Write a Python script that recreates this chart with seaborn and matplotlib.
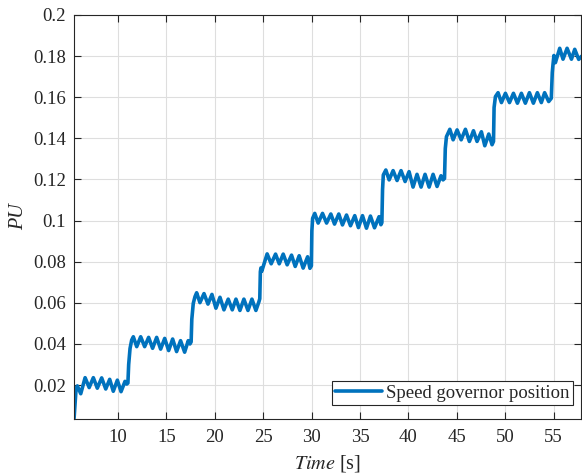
import pandas as pd
import seaborn as sns
import matplotlib
matplotlib.use("Agg")
import matplotlib.pyplot as plt

# speed governor position (peaks / troughs of each step)
time_s = [
    5.46, 5.67, 5.80, 6.15, 6.60, 7.02, 7.45, 7.86, 8.31, 8.73, 9.14, 9.51, 9.93, 10.31, 10.72, 10.90, 11.02,
    11.10, 11.24, 11.41, 11.58, 11.93, 12.34, 12.75, 13.16, 13.57, 13.99, 14.40, 14.82, 15.23, 15.64, 16.05, 16.46, 16.88, 17.25, 17.43, 17.55,
    17.62, 17.77, 17.95, 18.12, 18.46, 18.88, 19.29, 19.70, 20.11, 20.53, 20.94, 21.38, 21.80, 22.18, 22.59, 23.00, 23.42, 23.83, 24.24, 24.55, 24.64,
    24.70, 24.76, 24.84, 25.40, 25.82, 26.27, 26.65, 27.06, 27.47, 27.92, 28.30, 28.71, 29.12, 29.58, 29.82, 29.97,
    30.02, 30.10, 30.32, 30.67, 31.12, 31.54, 31.98, 32.36, 32.80, 33.18, 33.60, 34.01, 34.45, 34.83, 35.25, 35.66, 36.07, 36.49, 36.96, 37.15, 37.25,
    37.32, 37.40, 37.66, 38.00, 38.41, 38.82, 39.23, 39.65, 40.06, 40.47, 40.88, 41.30, 41.71, 42.13, 42.54, 42.95, 43.36, 43.57, 43.72,
    43.80, 43.92, 44.27, 44.61, 45.02, 45.44, 45.88, 46.29, 46.71, 47.08, 47.53, 47.88, 48.29, 48.63, 48.78,
    48.84, 48.98, 49.25, 49.60, 50.01, 50.43, 50.84, 51.25, 51.66, 52.07, 52.49, 52.90, 53.31, 53.72, 54.06, 54.48, 54.75,
    54.85, 54.92, 55.02, 55.17, 55.62, 55.96, 56.38, 56.83, 57.17, 57.58, 57.90,
]
gov_pu = [
    0.0038, 0.0184, 0.0196, 0.0158, 0.0236, 0.0188, 0.0236, 0.0185, 0.0235, 0.0181, 0.0228, 0.0170, 0.0224, 0.0168, 0.0218, 0.0205, 0.0210,
    0.0300, 0.0378, 0.0419, 0.0435, 0.0387, 0.0435, 0.0387, 0.0432, 0.0379, 0.0432, 0.0375, 0.0427, 0.0368, 0.0424, 0.0363, 0.0416, 0.0360, 0.0416, 0.0400, 0.0410,
    0.0520, 0.0597, 0.0630, 0.0649, 0.0601, 0.0645, 0.0594, 0.0641, 0.0574, 0.0627, 0.0566, 0.0618, 0.0566, 0.0618, 0.0563, 0.0618, 0.0563, 0.0618, 0.0563, 0.0605, 0.0620,
    0.0751, 0.0770, 0.0753, 0.0838, 0.0790, 0.0837, 0.0790, 0.0837, 0.0785, 0.0832, 0.0777, 0.0829, 0.0769, 0.0824, 0.0768, 0.0780,
    0.0950, 0.1011, 0.1035, 0.0988, 0.1035, 0.0988, 0.1032, 0.0983, 0.1032, 0.0979, 0.1027, 0.0975, 0.1024, 0.0966, 0.1024, 0.0963, 0.1022, 0.0965, 0.1019, 0.0980, 0.0990,
    0.1150, 0.1222, 0.1246, 0.1198, 0.1243, 0.1195, 0.1243, 0.1190, 0.1238, 0.1163, 0.1225, 0.1163, 0.1225, 0.1163, 0.1225, 0.1166, 0.1218, 0.1198, 0.1205,
    0.1350, 0.1408, 0.1444, 0.1393, 0.1441, 0.1393, 0.1444, 0.1385, 0.1437, 0.1385, 0.1432, 0.1364, 0.1421, 0.1369, 0.1385,
    0.1550, 0.1603, 0.1622, 0.1574, 0.1619, 0.1574, 0.1619, 0.1571, 0.1619, 0.1571, 0.1622, 0.1571, 0.1622, 0.1574, 0.1622, 0.1579, 0.1595,
    0.1720, 0.1757, 0.1803, 0.1768, 0.1838, 0.1785, 0.1838, 0.1785, 0.1833, 0.1784, 0.1800,
]
x_ticks = [10, 15, 20, 25, 30, 35, 40, 45, 50, 55]
y_ticks = [0.02, 0.04, 0.06, 0.08, 0.1, 0.12, 0.14, 0.16, 0.18, 0.2]
y_tick_labels = ["0.02", "0.04", "0.06", "0.08", "0.1", "0.12", "0.14", "0.16", "0.18", "0.2"]

df = pd.DataFrame({"time": time_s, "pu": gov_pu})

sns.set_theme(style="ticks")
plt.rcParams["font.family"] = ["Liberation Serif", "DejaVu Serif"]
plt.rcParams["mathtext.fontset"] = "stix"
ink = "#262626"

fig = plt.figure(figsize=(5.82, 4.74), dpi=100)
ax = fig.add_axes([0.1271, 0.116, 0.8709, 0.8524])

sns.lineplot(data=df, x="time", y="pu", estimator=None, sort=False,
             color="#0072BD", linewidth=2.6, label="Speed governor position", ax=ax)
for line in ax.lines:
    line.set_solid_joinstyle("round")

ax.set_xlim(5.45, 57.8)
ax.set_ylim(0.0035, 0.2)
ax.set_xticks(x_ticks)
ax.set_yticks(y_ticks)
ax.set_yticklabels(y_tick_labels)
ax.grid(True, color="#dedede", linewidth=0.8)
ax.tick_params(direction="in", length=5, width=0.8, top=True, right=True,
               labelsize=13.5, colors=ink)
ax.tick_params(axis="x", pad=7)
ax.tick_params(axis="y", pad=6)
for side in ax.spines.values():
    side.set_visible(True)
    side.set_color(ink)
    side.set_linewidth(0.8)

ax.set_xlabel(r"$\mathit{Time}$ [s]", fontsize=14.5, color=ink, labelpad=5)
ax.set_ylabel("PU", fontsize=14.5, color=ink, fontstyle="italic", labelpad=3)

leg = ax.legend(loc="lower right", bbox_to_anchor=(0.985, 0.034), borderaxespad=0,
                fontsize=13.5, frameon=True, fancybox=False,
                handlelength=2.5, borderpad=0.2, handletextpad=0.2)
leg.get_frame().set_edgecolor(ink)
leg.get_frame().set_linewidth(0.8)
leg.get_frame().set_alpha(1)

fig.savefig("out.png", dpi=100)
